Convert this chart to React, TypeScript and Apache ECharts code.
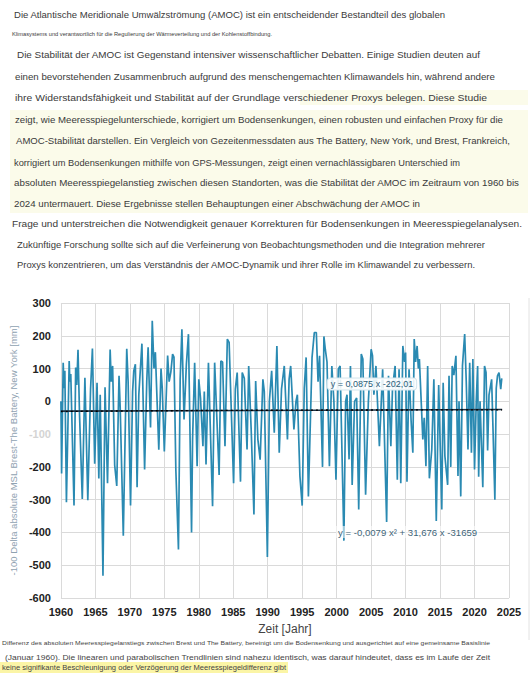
import React, { useEffect, useRef } from "react";
import * as echarts from "echarts";

// ---------- DATA (decimal year, Delta MSL in mm) ----------
const d1960s: [number, number][] = [
  [1960.0, 0], [1960.1, -220], [1960.33, 118], [1960.45, 40], [1960.57, 93], [1960.8, -308],
  [1961.2, 123], [1961.3, 60], [1961.43, 83], [1961.9, -318], [1962.14, 103], [1962.3, 50],
  [1962.48, 157], [1962.7, -40], [1963.1, -298], [1963.48, 72], [1963.9, -302], [1964.3, 37],
  [1964.57, 161], [1964.9, -190], [1965.24, 57], [1965.5, -235], [1965.7, 20], [1966.1, -532],
  [1966.4, 43], [1966.76, -250], [1967.14, 158], [1967.3, 60], [1967.5, 108], [1967.8, -195],
  [1968.1, -258], [1968.43, 78], [1968.6, -20], [1969.05, -410], [1969.55, 160], [1969.75, 60],
];
const d1970s: [number, number][] = [
  [1970.1, -318], [1970.4, 30], [1970.57, 93], [1970.8, 113], [1971.05, -262], [1971.3, 20],
  [1971.75, 176], [1972.14, -208], [1972.45, 60], [1972.65, 165], [1973.0, -80], [1973.25, 246],
  [1973.5, 100], [1973.7, 150], [1974.2, -148], [1974.52, 100], [1974.7, 40], [1975.0, -153],
  [1975.48, 140], [1975.7, 60], [1975.95, 90], [1976.2, 144], [1976.4, 135], [1976.67, -208],
  [1977.05, -452], [1977.3, 67], [1977.55, 220], [1977.86, -55], [1978.2, 113], [1978.5, 205],
  [1978.95, -400], [1979.1, -116], [1979.4, 118], [1979.76, -198],
];
const d1980s: [number, number][] = [
  [1980.0, 67], [1980.25, 10], [1980.6, -137], [1980.8, 30], [1981.05, -193], [1981.4, 118],
  [1982.0, -320], [1982.3, 118], [1982.95, -225], [1983.2, 123], [1983.45, 120], [1983.8, -137],
  [1984.14, 190], [1984.4, 180], [1985.05, -250], [1985.3, 37], [1985.57, 88], [1986.05, -245],
  [1986.3, 88], [1986.6, 70], [1987.0, -147], [1987.24, 108], [1987.6, -86], [1988.0, -345],
  [1988.25, 62], [1988.57, -116], [1988.9, -178], [1989.3, 67], [1989.5, 30], [1989.95, -475],
];
const d1990s: [number, number][] = [
  [1990.24, 0], [1990.57, 93], [1990.95, -96], [1991.33, 169], [1991.67, -157], [1992.0, 37],
  [1992.4, 108], [1992.86, -116], [1993.1, 67], [1993.33, 108], [1993.8, -86], [1994.1, 0],
  [1994.3, 20], [1994.67, -228], [1995.0, -318], [1995.3, 40], [1995.57, 134], [1995.9, -290],
  [1996.43, 134], [1996.76, 210], [1997.05, 210], [1997.3, 60], [1997.52, 139], [1997.95, -200],
  [1998.15, 198], [1998.35, 159], [1998.6, 120], [1998.95, -198], [1999.3, 108], [1999.6, 0],
  [1999.9, -239],
];
const d2000s: [number, number][] = [
  [2000.24, 98], [2000.5, 108], [2001.05, -425], [2001.3, 0], [2001.5, 20], [2001.8, -177],
  [2002.0, 108], [2002.25, -255], [2002.6, 0], [2002.9, 10], [2003.2, -330], [2003.57, 144],
  [2003.8, 129], [2004.2, -285], [2004.6, 0], [2005.0, 159], [2005.2, 139], [2005.4, 20],
  [2005.7, 108], [2006.2, -137], [2006.67, 98], [2007.25, -368], [2007.52, 78], [2007.86, -137],
  [2008.1, 40], [2008.48, 108], [2008.8, -239], [2009.05, 98], [2009.3, -250], [2009.6, 169],
  [2009.85, 120],
];
const d2010s: [number, number][] = [
  [2010.0, 149], [2010.2, -245], [2010.5, 98], [2010.8, -60], [2011.05, -157], [2011.25, 190],
  [2011.45, 120], [2011.67, 169], [2011.85, 100], [2012.0, 129], [2012.5, -116], [2012.7, -50],
  [2012.95, -198], [2013.2, 108], [2013.45, -235], [2013.8, -147], [2014.1, 67], [2014.45, -365],
  [2014.8, 50], [2015.25, -330], [2015.45, 57], [2015.7, -167], [2016.1, -255], [2016.3, 78],
  [2016.55, -200], [2016.76, 108], [2017.0, 80], [2017.3, 139], [2017.6, -228], [2017.75, 0],
  [2018.0, -290], [2018.25, 108], [2018.57, 205], [2018.8, 60], [2019.05, -147], [2019.3, 118],
  [2019.55, -157], [2019.76, 129],
];
const d2020s: [number, number][] = [
  [2020.0, -208], [2020.25, 0], [2020.45, 108], [2020.6, -230], [2020.8, 0], [2021.2, -262],
  [2021.45, 108], [2021.67, 88], [2021.9, -150], [2022.1, 20], [2022.48, 67], [2022.7, -100],
  [2022.95, -300], [2023.15, 40], [2023.33, 78], [2023.55, 88], [2023.8, 37], [2023.95, 70],
];

const linearTrend: [number, number][] = [[1960, -30], [2024, -25]];
const parabolicTrend: [number, number][] = [[1960, -31], [1992, -27], [2024, -26]];

const xMin = 1960;
const xMax = 2025;
const xStep = 5;
const yMin = -600;
const yMax = 300;
const yStep = 100;

const linearEq = "y = 0,0875 x -202,01";
const parabolicEq = "y = -0,0079 x² + 31,676 x -31659";
const yAxisName = "-100 Delta absolute MSL Brest-The Battery, New York [mm]";
const xAxisName = "Zeit [Jahr]";

const introLines = [
  "Die Atlantische Meridionale Umwälzströmung (AMOC) ist ein entscheidender Bestandteil des globalen",
  "Klimasystems und verantwortlich für die Regulierung der Wärmeverteilung und der Kohlenstoffbindung.",
  "Die Stabilität der AMOC ist Gegenstand intensiver wissenschaftlicher Debatten. Einige Studien deuten auf",
  "einen bevorstehenden Zusammenbruch aufgrund des menschengemachten Klimawandels hin, während andere",
  "ihre Widerstandsfähigkeit und Stabilität auf der Grundlage verschiedener Proxys belegen. Diese Studie",
  "zeigt, wie Meeresspiegelunterschiede, korrigiert um Bodensenkungen, einen robusten und einfachen Proxy für die",
  "AMOC-Stabilität darstellen. Ein Vergleich von Gezeitenmessdaten aus The Battery, New York, und Brest, Frankreich,",
  "korrigiert um Bodensenkungen mithilfe von GPS-Messungen, zeigt einen vernachlässigbaren Unterschied im",
  "absoluten Meeresspiegelanstieg zwischen diesen Standorten, was die Stabilität der AMOC im Zeitraum von 1960 bis",
  "2024 untermauert. Diese Ergebnisse stellen Behauptungen einer Abschwächung der AMOC in",
  "Frage und unterstreichen die Notwendigkeit genauer Korrekturen für Bodensenkungen in Meeresspiegelanalysen.",
  "Zukünftige Forschung sollte sich auf die Verfeinerung von Beobachtungsmethoden und die Integration mehrerer",
  "Proxys konzentrieren, um das Verständnis der AMOC-Dynamik und ihrer Rolle im Klimawandel zu verbessern.",
];
const captionLines = [
  "Differenz des absoluten Meeresspiegelanstiegs zwischen Brest und The Battery, bereinigt um die Bodensenkung und ausgerichtet auf eine gemeinsame Basislinie",
  "(Januar 1960). Die linearen und parabolischen Trendlinien sind nahezu identisch, was darauf hindeutet, dass es im Laufe der Zeit",
  "keine signifikante Beschleunigung oder Verzögerung der Meeresspiegeldifferenz gibt",
];

// layout for text lines: [x, centerY, width, fontSize]
const introLayout: [number, number, number, number][] = [
  [14, 15, 431, 9.3],
  [12, 34, 260, 6],
  [17, 55, 463, 9.3],
  [15, 77, 480, 9.3],
  [15, 98, 472, 9.3],
  [15, 120, 488, 9.3],
  [16, 141, 494, 9.3],
  [14, 163, 446, 9.3],
  [14, 183, 505, 9.3],
  [14, 204, 406, 9.3],
  [12, 224, 510, 9.3],
  [17, 245, 468, 9.3],
  [17, 265, 458, 9.3],
];
const captionLayout: [number, number, number, number][] = [
  [2, 643, 488, 5.5],
  [5, 657, 485, 8],
  [2, 668, 284, 6.5],
];

const FONT = "'Liberation Sans', Arial, sans-serif";

export default function App() {
  const ref = useRef<HTMLDivElement>(null);

  useEffect(() => {
    if (!ref.current) return;
    const chart = echarts.init(ref.current, undefined, { renderer: "svg" });
    const series = [...d1960s, ...d1970s, ...d1980s, ...d1990s, ...d2000s, ...d2010s, ...d2020s];
    chart.setOption({
      animation: false,
      backgroundColor: "transparent",
      textStyle: { fontFamily: FONT },
      grid: { left: 51, right: 22, top: 303, bottom: 77, containLabel: false },
      xAxis: {
        type: "value",
        min: xMin,
        max: xMax,
        interval: xStep,
        axisLine: { show: false },
        axisTick: { show: false },
        splitLine: { show: true, lineStyle: { color: "#dadada", width: 1 } },
        axisLabel: {
          color: "#222",
          fontWeight: "bold",
          fontSize: 11,
          margin: 8,
          fontFamily: FONT,
          formatter: (v: number) => String(v),
        },
        name: xAxisName,
        nameLocation: "middle",
        nameGap: 25,
        nameTextStyle: { color: "#444", fontSize: 12, fontFamily: FONT },
      },
      yAxis: {
        type: "value",
        min: yMin,
        max: yMax,
        interval: yStep,
        axisLine: { show: false },
        axisTick: { show: false },
        splitLine: { show: true, lineStyle: { color: "#dadada", width: 1 } },
        axisLabel: {
          color: "#222",
          fontWeight: "bold",
          fontSize: 11,
          margin: 10,
          fontFamily: FONT,
          formatter: (v: number) => (v === -100 ? "{f|-100}" : String(v)),
          rich: { f: { color: "#d4d4d4", fontWeight: "bold", fontSize: 11 } },
        },
        name: yAxisName,
        nameLocation: "middle",
        nameGap: 38,
        nameTextStyle: { color: "#8fa2b1", fontSize: 9.5, fontFamily: FONT },
      },
      series: [
        {
          type: "line",
          data: series,
          showSymbol: false,
          symbol: "none",
          lineStyle: { color: "#2a8ab2", width: 1.7 },
          z: 2,
        },
        {
          type: "line",
          data: linearTrend,
          showSymbol: false,
          symbol: "none",
          lineStyle: { color: "#1d3346", width: 1.6 },
          z: 3,
        },
        {
          type: "line",
          data: parabolicTrend,
          showSymbol: false,
          symbol: "none",
          smooth: true,
          lineStyle: { color: "#000", width: 1.4, type: [2, 3] },
          z: 4,
        },
      ],
      graphic: [
        {
          type: "text",
          x: 372,
          y: 384,
          z: 100,
          style: {
            text: linearEq,
            fontSize: 9,
            fontFamily: FONT,
            fill: "#2b5d78",
            align: "center",
            verticalAlign: "middle",
            backgroundColor: "rgba(255,255,255,0.88)",
            borderColor: "#d3e6ee",
            borderWidth: 1,
            borderRadius: 3,
            padding: [1, 3],
          },
        },
        {
          type: "text",
          x: 336,
          y: 532,
          z: 100,
          style: {
            text: parabolicEq,
            fontSize: 9.6,
            fontFamily: FONT,
            fill: "#3f6679",
            align: "left",
            verticalAlign: "middle",
            backgroundColor: "rgba(255,255,255,0.55)",
            padding: [1, 2],
          },
        },
        {
          type: "line",
          shape: { x1: 529, y1: 298, x2: 529, y2: 640 },
          style: { stroke: "#e2e2e2", lineWidth: 1 },
        },
      ],
    });
    return () => chart.dispose();
  }, []);

  return (
    <div style={{ position: "absolute", left: 0, top: 0, width: 531, height: 675, background: "#fff", overflow: "hidden" }}>
      <div ref={ref} style={{ position: "absolute", left: 0, top: 0, width: 531, height: 675 }} />
      <svg width={531} height={675} style={{ position: "absolute", left: 0, top: 0, pointerEvents: "none" }}>
        <rect x={300} y={90} width={228} height={15} fill="#fbfbea" />
        <rect x={10} y={110} width={518} height={103} fill="#fbfbea" />
        <rect x={0} y={662} width={288} height={11} fill="#fbf5a6" />
        {introLines.map((t, i) => {
          const [x, cy, w, fs] = introLayout[i];
          return (
            <text key={"i" + i} x={x} y={cy + fs * 0.35} fontSize={fs} textLength={w} lengthAdjust="spacingAndGlyphs" fill="#3a3a3a" fontFamily={FONT}>
              {t}
            </text>
          );
        })}
        {captionLines.map((t, i) => {
          const [x, cy, w, fs] = captionLayout[i];
          return (
            <text key={"c" + i} x={x} y={cy + fs * 0.35} fontSize={fs} textLength={w} lengthAdjust="spacingAndGlyphs" fill="#444" fontFamily={FONT}>
              {t}
            </text>
          );
        })}
      </svg>
    </div>
  );
}
